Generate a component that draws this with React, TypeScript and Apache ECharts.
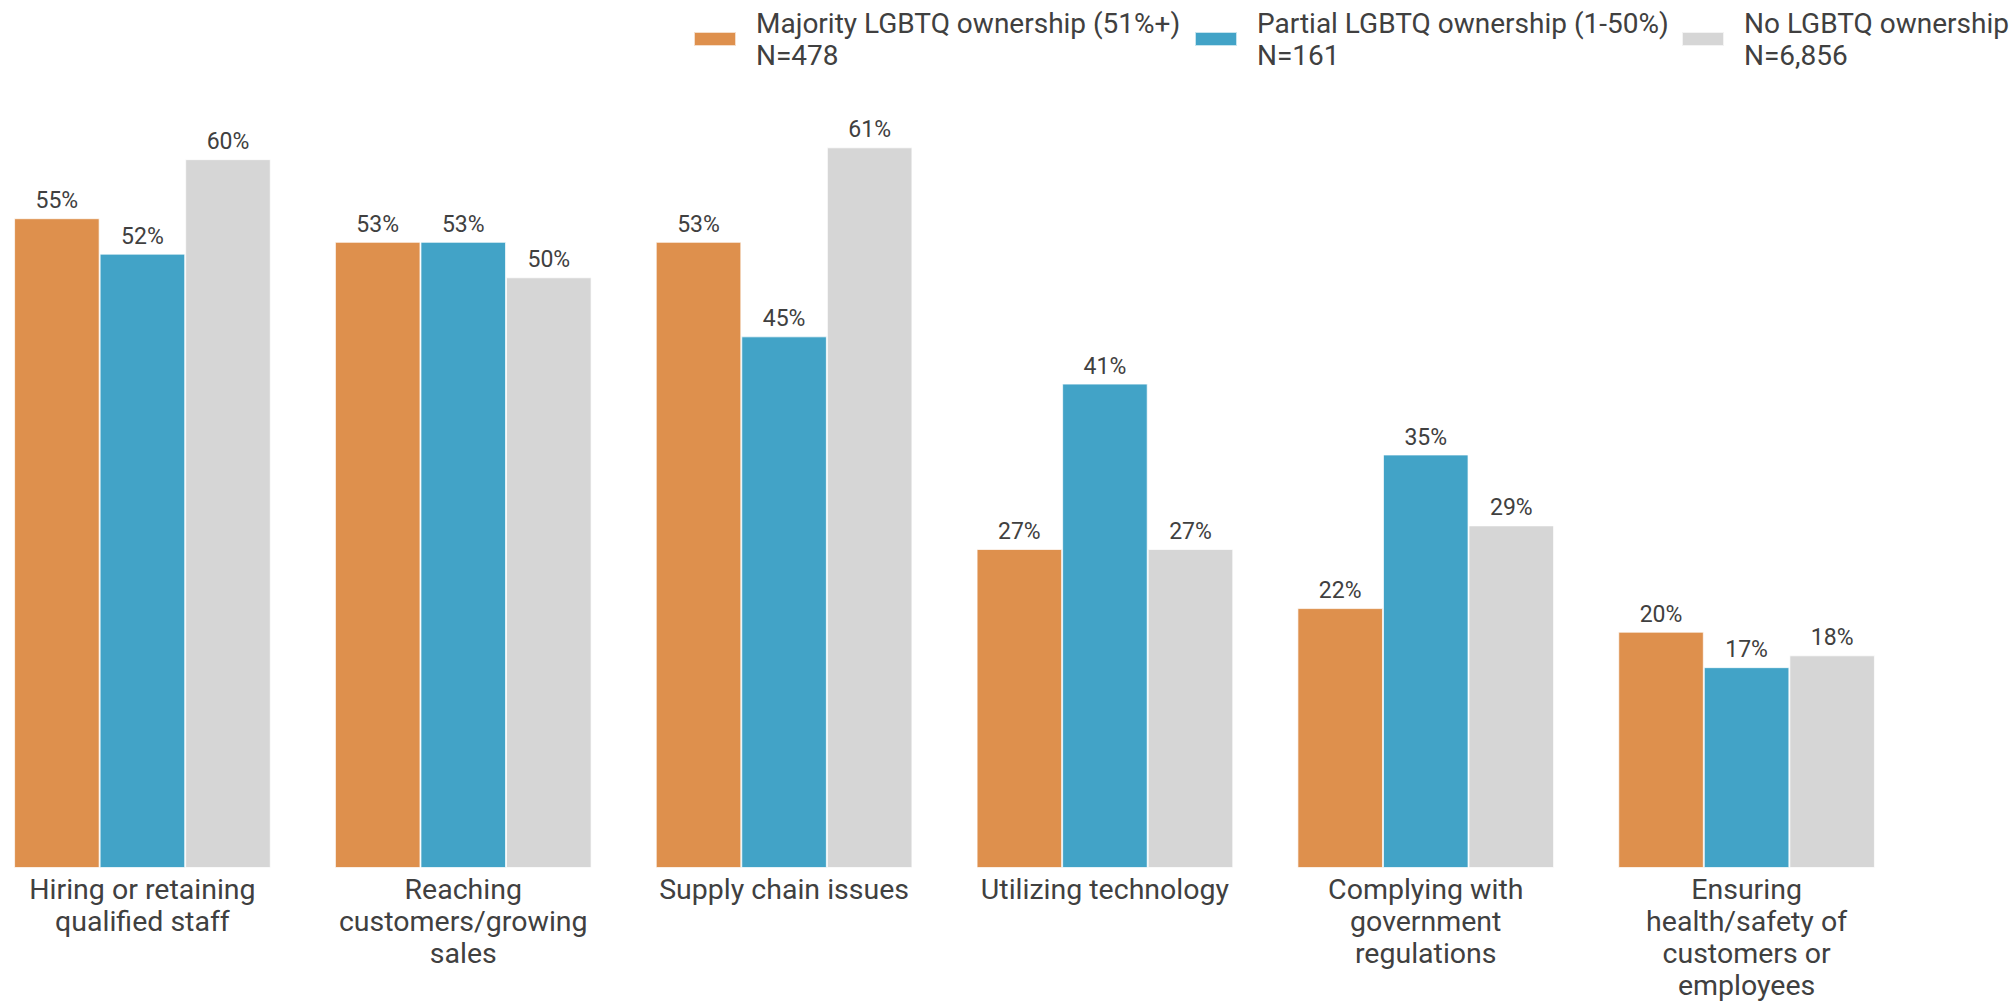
import React, { useEffect, useRef } from "react";
import * as echarts from "echarts";

const categories = [
  "Hiring or retaining\nqualified staff",
  "Reaching\ncustomers/growing\nsales",
  "Supply chain issues",
  "Utilizing technology",
  "Complying with\ngovernment\nregulations",
  "Ensuring\nhealth/safety of\ncustomers or\nemployees",
];

const seriesNames = [
  "Majority LGBTQ ownership (51%+)\nN=478",
  "Partial LGBTQ ownership (1-50%)\nN=161",
  "No LGBTQ ownership\nN=6,856",
];

const majorityValues = [55, 53, 53, 27, 22, 20];
const partialValues = [52, 53, 45, 41, 35, 17];
const noneValues = [60, 50, 61, 27, 29, 18];

const colors = ["#DE904D", "#42A3C7", "#D6D6D6"];
const OFFSET = 18;
const legendLefts = [693 + OFFSET, 1194 + OFFSET, 1681 + OFFSET];

export default function App() {
  const ref = useRef<HTMLDivElement>(null);
  useEffect(() => {
    if (!ref.current) return;
    const chart = echarts.init(ref.current, undefined, { renderer: "svg" });
    const textColor = "#404040";
    const font = "Roboto";
    const data = [majorityValues, partialValues, noneValues];
    chart.setOption({
      animation: false,
      backgroundColor: "#ffffff",
      legend: seriesNames.map((name, i) => ({
        data: [name],
        left: legendLefts[i],
        top: 7,
        padding: 0,
        icon: "rect",
        itemWidth: 42,
        itemHeight: 14,
        selectedMode: false,
        textStyle: {
          fontFamily: font,
          fontSize: 28,
          lineHeight: 32,
          color: textColor,
          padding: [0, 0, 0, 15],
        },
      })),
      grid: { left: 0, width: 1925, top: 41, height: 831 },
      xAxis: {
        type: "category",
        data: categories,
        axisLine: { show: false },
        axisTick: { show: false },
        axisLabel: {
          interval: 0,
          fontFamily: font,
          fontSize: 28.5,
          lineHeight: 32,
          color: textColor,
          margin: 5,
        },
      },
      yAxis: {
        type: "value",
        min: 0,
        max: 70,
        show: false,
        splitLine: { show: false },
      },
      series: seriesNames.map((name, i) => ({
        name,
        type: "bar",
        data: data[i],
        barGap: "0%",
        barCategoryGap: "20%",
        itemStyle: {
          color: colors[i],
          borderColor: "rgba(255,255,255,0.7)",
          borderWidth: 1,
        },
        label: {
          show: true,
          position: "top",
          distance: 6,
          formatter: "{c}%",
          fontFamily: font,
          fontSize: 23,
          color: textColor,
        },
      })),
    });
    return () => chart.dispose();
  }, []);
  return (
    <div
      ref={ref}
      style={{ position: "absolute", left: -OFFSET, top: 0, width: 2013 + OFFSET, height: 1001 }}
    />
  );
}
